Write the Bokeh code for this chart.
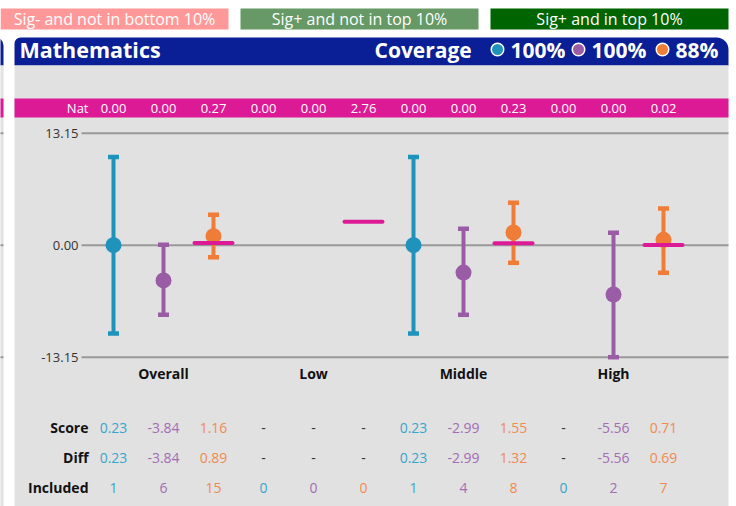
from bokeh.plotting import figure
from bokeh.models import ColumnDataSource, Range1d, BoxAnnotation, Label
from bokeh.core.properties import value
from bokeh.embed import file_html
from bokeh.resources import INLINE

# ---------------- data ----------------
groups = ["Overall", "Low", "Middle", "High"]
series_colors = ["#1f93bb", "#9b5ca6", "#ef7c37"]
table_colors = ["#3aa5cb", "#a46cb4", "#f08b4f"]
nat = [0.00, 0.00, 0.27, 0.00, 0.00, 2.76, 0.00, 0.00, 0.23, 0.00, 0.00, 0.02]
point = [0.00, -4.14, 1.06, None, None, None, 0.00, -3.21, 1.49, None, -5.79, 0.63]
upper = [10.37, 0.05, 3.57, None, None, None, 10.37, 1.93, 4.98, None, 1.46, 4.31]
lower = [-10.37, -8.17, -1.41, None, None, None, -10.37, -8.17, -2.07, None, -13.15, -3.24]
score = ["0.23", "-3.84", "1.16", "-", "-", "-", "0.23", "-2.99", "1.55", "-", "-5.56", "0.71"]
diff = ["0.23", "-3.84", "0.89", "-", "-", "-", "0.23", "-2.99", "1.32", "-", "-5.56", "0.69"]
included = ["1", "6", "15", "0", "0", "0", "1", "4", "8", "0", "2", "7"]
coverage = ["100%", "100%", "88%"]
yticks = [13.15, 0.00, -13.15]
ytick_labels = ["13.15", "0.00", "-13.15"]
legend_labels = ["Sig- and not in bottom 10%", "Sig+ and not in top 10%", "Sig+ and in top 10%"]
legend_colors = ["#ff9999", "#669966", "#006400"]
row_labels = ["Score", "Diff", "Included"]
title = "Mathematics"

# ---------------- layout helpers (pixel -> data) ----------------
W, H = 736, 506
X0, DX = 113.0, 50.0
Y0, DY = 244.7, 8.517
FONT = "Open Sans"
BLUE = "#0a1f96"
MAGENTA = "#dd1a96"
GREY = "#e1e1e1"


def X(px):
    return (px - X0) / DX


def Y(py):
    return (Y0 - py) / DY


p = figure(width=W, height=H, output_backend="svg", toolbar_location=None,
           x_range=Range1d(X(0), X(W)), y_range=Range1d(Y(H), Y(0)),
           x_axis_location=None, y_axis_location=None, min_border=0,
           tools="")
p.grid.visible = False
p.outline_line_color = None
p.background_fill_color = "white"
p.border_fill_color = "white"


def box(l, r, t, b, color, radius=0):
    bx = BoxAnnotation(left=X(l), right=X(r), top=Y(t), bottom=Y(b),
                       fill_color=color, fill_alpha=1.0, line_color=None,
                       level="underlay", border_radius=radius)
    p.add_layout(bx)


# legend boxes
legend_px = [(0, 228), (240, 478), (490, 728)]
for (l, r), c in zip(legend_px, legend_colors):
    box(l, r, 8, 29, c)
p.text(x=[X((l + r) / 2) for l, r in legend_px], y=[Y(18.5)] * 3, text=legend_labels,
       text_color="white", text_font=value(FONT), text_font_size=value("16px"),
       text_align="center", text_baseline="middle")

# left sliver of neighbouring panel
box(-20, 3, 37, 65, BLUE, (0, 8, 0, 0))
box(-20, 3, 65, H + 5, GREY)
box(-20, 3, 98, 117, MAGENTA)

# main panel
box(14, 728, 37, 65, BLUE, (6, 12, 0, 0))
box(14, 728, 65, H + 5, GREY)
box(14, 728, 98, 117, MAGENTA)

# header text
p.add_layout(Label(x=X(19), y=Y(49), text=title, text_color="white", text_font=FONT,
                   text_font_size="21.5px", text_font_style="bold", text_baseline="middle",
                   level="overlay"))
p.add_layout(Label(x=X(374), y=Y(49), text="Coverage", text_color="white", text_font=FONT,
                   text_font_size="21px", text_font_style="bold", text_baseline="middle",
                   level="overlay"))
cov_dot_px = [497, 578, 662]
p.scatter(x=[X(v) for v in cov_dot_px], y=[Y(49)] * 3, size=12.5, fill_color=series_colors,
          line_color="white", line_width=1.5)
p.text(x=[X(v + 13) for v in cov_dot_px], y=[Y(49)] * 3, text=coverage, text_color="white",
       text_font=value(FONT), text_font_size=value("21px"), text_font_style="bold",
       text_align="left", text_baseline="middle")

# Nat row
slots = list(range(len(nat)))
p.text(x=[X(88)], y=[Y(107.5)], text=["Nat"], text_color="white", text_font=value(FONT),
       text_font_size=value("13px"), text_align="right", text_baseline="middle")
p.text(x=slots, y=[Y(107.5)] * len(nat), text=[f"{v:.2f}" for v in nat], text_color="white",
       text_font=value(FONT), text_font_size=value("13px"), text_align="center",
       text_baseline="middle")

# grid lines + tick labels
p.segment(x0=[X(81)] * 3, x1=[X(728)] * 3, y0=yticks, y1=yticks, line_color="#999999", line_width=2)
p.segment(x0=[X(-5)] * 3, x1=[X(3)] * 3, y0=yticks, y1=yticks, line_color="#999999", line_width=2)
p.text(x=[X(78)] * 3, y=yticks, text=ytick_labels, text_color="#333333", text_font=value(FONT),
       text_font_size=value("13px"), text_align="right", text_baseline="middle")

# error bars and points
idx = [i for i in slots if point[i] is not None]
src = ColumnDataSource(dict(
    x=idx,
    y=[point[i] for i in idx],
    lo=[lower[i] for i in idx],
    hi=[upper[i] for i in idx],
    xl=[i - 5.5 / DX for i in idx],
    xr=[i + 5.5 / DX for i in idx],
    color=[series_colors[i % 3] for i in idx],
))
p.segment(x0="x", x1="x", y0="lo", y1="hi", source=src, line_color="color", line_width=4)
p.segment(x0="xl", x1="xr", y0="hi", y1="hi", source=src, line_color="color", line_width=4.5)
p.segment(x0="xl", x1="xr", y0="lo", y1="lo", source=src, line_color="color", line_width=4.5)
p.scatter(x="x", y="y", source=src, size=16, fill_color="color", line_color=None)

# national lines (on orange slots)
nat_idx = [i for i in slots if i % 3 == 2]
p.segment(x0=[i - 19 / DX for i in nat_idx], x1=[i + 19 / DX for i in nat_idx],
          y0=[nat[i] for i in nat_idx], y1=[nat[i] for i in nat_idx],
          line_color=MAGENTA, line_width=4, line_cap="round")

# category labels
p.text(x=[3 * g + 1 for g in range(len(groups))], y=[Y(373)] * len(groups), text=groups,
       text_color="#111111", text_font=value(FONT), text_font_size=value("14px"),
       text_font_style="bold", text_align="center", text_baseline="middle")

# table
row_px = [427, 457, 487]
p.text(x=[X(88)] * 3, y=[Y(v) for v in row_px], text=row_labels, text_color="#111111",
       text_font=value(FONT), text_font_size=value("14px"), text_font_style="bold",
       text_align="right", text_baseline="middle")
for rows, py in zip([score, diff, included], row_px):
    cols = ["#333333" if t == "-" else table_colors[i % 3] for i, t in enumerate(rows)]
    p.text(x=slots, y=[Y(py)] * len(rows), text=rows, text_color=cols,
           text_font=value(FONT), text_font_size=value("14px"), text_align="center",
           text_baseline="middle")

open("out.html", "w").write(file_html(p, INLINE))
